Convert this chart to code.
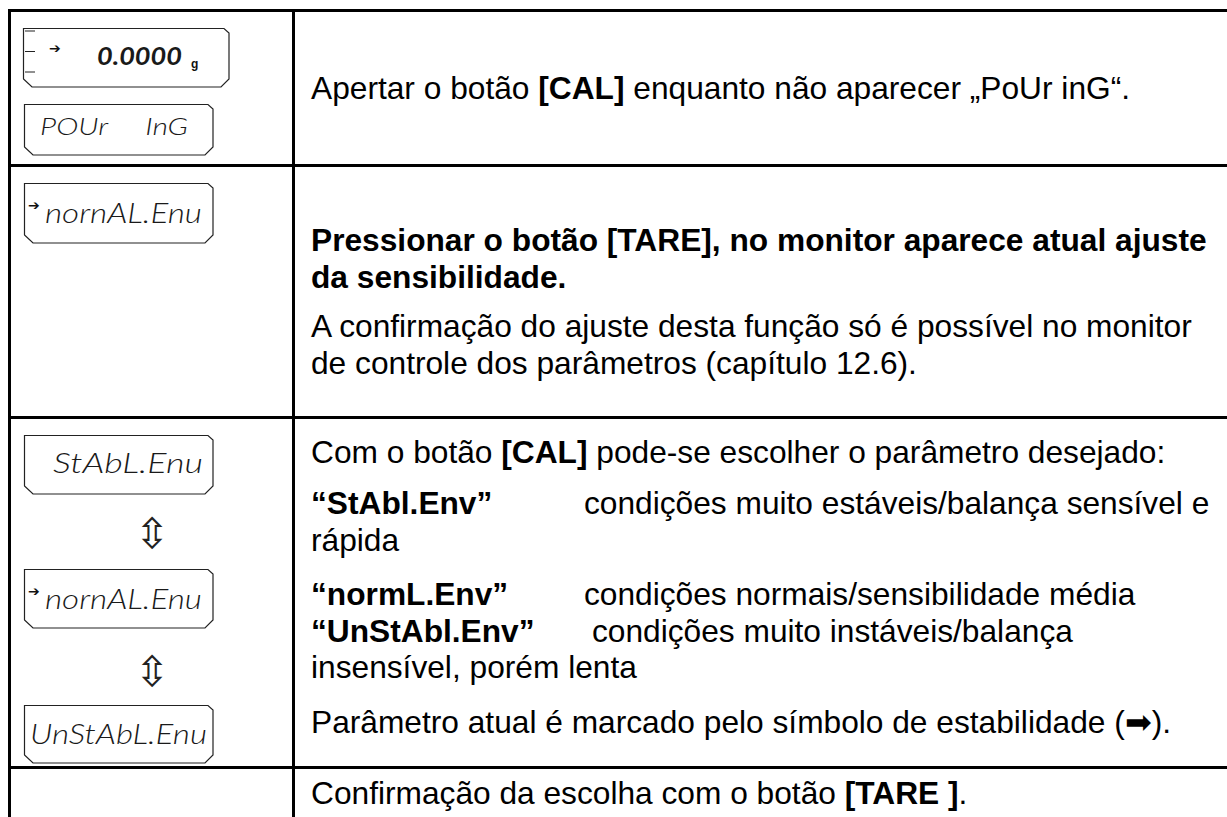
<!DOCTYPE html>
<html><head><meta charset="utf-8">
<script src="https://cdn.jsdelivr.net/npm/chart.js@4.4.0/dist/chart.umd.min.js"></script>
<style>
html,body{margin:0;padding:0;background:#fff;}
#page{position:relative;width:1227px;height:817px;overflow:hidden;background:#fff;font-family:"Liberation Sans",Arial,sans-serif;color:#000;}
.h{position:absolute;left:8px;right:0;height:3px;background:#000;}
.v{position:absolute;top:9px;bottom:0;width:3px;background:#000;}
.t{position:absolute;left:311px;font-size:31.7px;line-height:36.5px;white-space:nowrap;}
.t b{font-weight:bold;}
svg{position:absolute;left:0;top:0;}
.lcd{font-family:"Lato","DejaVu Sans",sans-serif;font-weight:300;font-style:italic;fill:#1a1a1a;}
</style></head>
<body><div id="page">
<div class="h" style="top:9px"></div>
<div class="h" style="top:164px"></div>
<div class="h" style="top:416px"></div>
<div class="h" style="top:766px"></div>
<div class="v" style="left:8px"></div>
<div class="v" style="left:292px"></div>

<div class="t" style="top:70px">Apertar o botão <b>[CAL]</b> enquanto não aparecer „PoUr inG“.</div>

<div class="t" style="top:222px;font-weight:bold">Pressionar o botão [TARE], no monitor aparece atual ajuste<br>da sensibilidade.</div>
<div class="t" style="top:308px">A confirmação do ajuste desta função só é possível no monitor<br>de controle dos parâmetros (capítulo 12.6).</div>

<div class="t" style="top:434px">Com o botão <b>[CAL]</b> pode-se escolher o parâmetro desejado:</div>
<div class="t" style="top:485px"><b>“StAbl.Env”</b><span style="position:absolute;left:273px">condições muito estáveis/balança sensível e</span><br>rápida</div>
<div class="t" style="top:576px"><b>“normL.Env”</b><span style="position:absolute;left:273px">condições normais/sensibilidade média</span><br><b>“UnStAbl.Env”</b><span style="position:absolute;left:281px;top:36.5px">condições muito instáveis/balança</span><br>insensível, porém lenta</div>
<div class="t" style="top:704px">Parâmetro atual é marcado pelo símbolo de estabilidade (➡).</div>
<div class="t" style="top:775px">Confirmação da escolha com o botão <b>[TARE ]</b>.</div>

<svg width="292" height="817" viewBox="0 0 292 817">
 <g fill="none" stroke="#222" stroke-width="1.2">
  <path d="M23.5,28.5 H224 L229,33 V79 L221,87 H32 L23.5,79 Z"/>
  <path d="M24.5,104.5 H208 L213,109 V147 L205,155 H33 L24.5,147 Z"/>
  <path d="M24.5,183.5 H208 L213,188 V235 L205,243 H33 L24.5,235 Z"/>
  <path d="M24.5,435.5 H208 L213,440 V486 L205,494 H33 L24.5,486 Z"/>
  <path d="M24.5,569.5 H208 L213,574 V620 L205,628 H33 L24.5,620 Z"/>
  <path d="M24.5,705.5 H208 L213,710 V755 L205,763 H33 L24.5,755 Z"/>
  <path d="M25,31 H35 M25,51.5 H35 M25,72 H35"/>
 </g>
 <text x="49" y="53" font-size="14" font-family="DejaVu Sans" fill="#111">➔</text>
 <text class="lcd" x="97" y="65" font-size="25" style="font-weight:700" textLength="85" lengthAdjust="spacingAndGlyphs">0.0000</text>
 <text x="191" y="68" font-size="12" font-weight="bold" font-family="Liberation Sans" fill="#111">g</text>
 <text class="lcd" x="40" y="135" font-size="24" textLength="148" lengthAdjust="spacingAndGlyphs" xml:space="preserve">POUr     InG</text>
 <text x="28" y="210" font-size="14" font-family="DejaVu Sans" fill="#111">➔</text>
 <text class="lcd" x="45" y="223" font-size="28" textLength="157" lengthAdjust="spacingAndGlyphs">nornAL.Enu</text>
 <text class="lcd" x="53" y="473" font-size="28" textLength="150" lengthAdjust="spacingAndGlyphs">StAbL.Enu</text>
 <text x="152" y="548" font-size="42" text-anchor="middle" font-family="DejaVu Sans" fill="#222">⇳</text>
 <text x="28" y="596" font-size="14" font-family="DejaVu Sans" fill="#111">➔</text>
 <text class="lcd" x="45" y="609" font-size="28" textLength="157" lengthAdjust="spacingAndGlyphs">nornAL.Enu</text>
 <text x="152" y="686" font-size="42" text-anchor="middle" font-family="DejaVu Sans" fill="#222">⇳</text>
 <text class="lcd" x="30" y="744" font-size="28" textLength="177" lengthAdjust="spacingAndGlyphs">UnStAbL.Enu</text>
</svg>
</div></body></html>
